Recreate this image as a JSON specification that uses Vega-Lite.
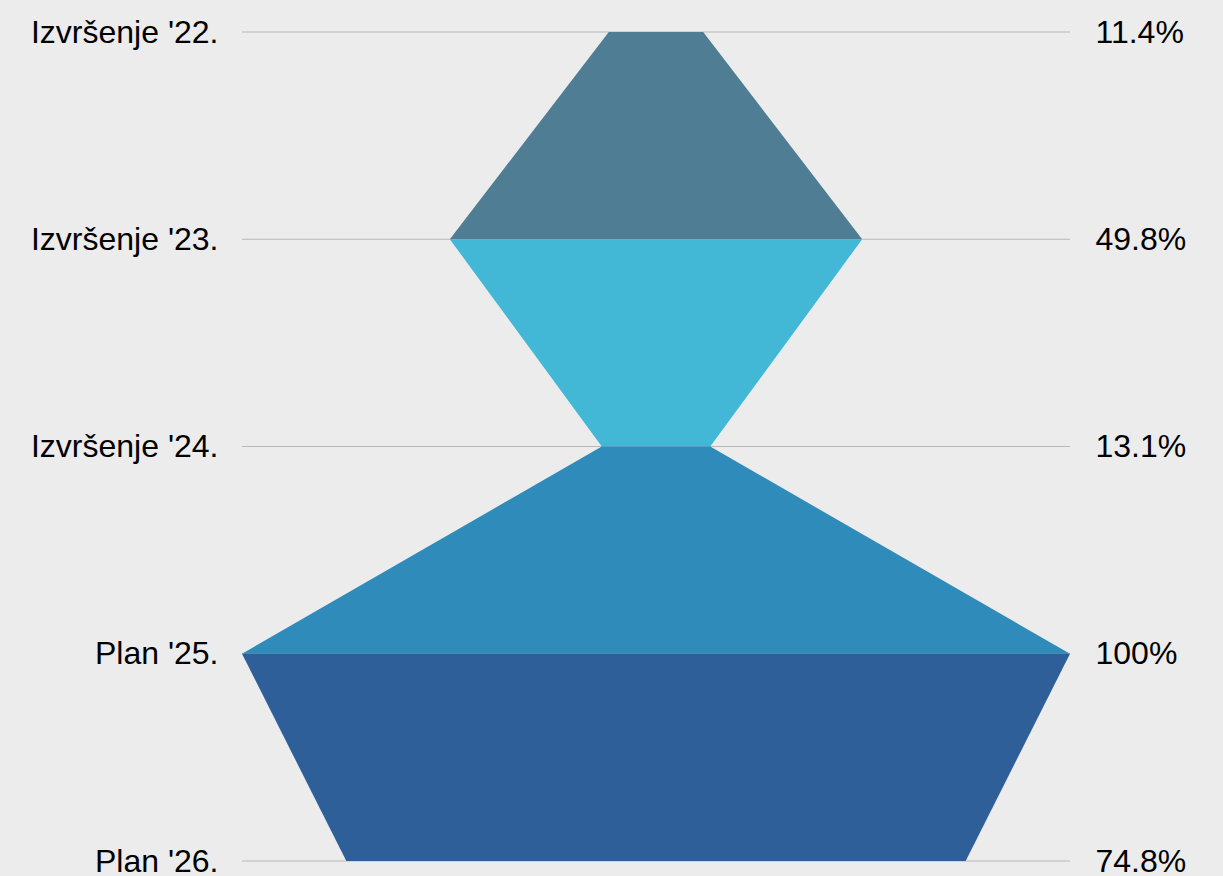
{
  "$schema": "https://vega.github.io/schema/vega-lite/v6.json",
  "description": "Funnel of execution and plan shares, drawn as centred trapezoids.",
  "width": 828,
  "height": 829,
  "autosize": {"type": "none"},
  "padding": {"left": 242, "top": 32, "right": 153, "bottom": 15},
  "background": "#ececec",
  "datasets": {
    "levels": [
      {"level": "Izvršenje '22.", "pct": "11.4%", "value": 11.4},
      {"level": "Izvršenje '23.", "pct": "49.8%", "value": 49.8},
      {"level": "Izvršenje '24.", "pct": "13.1%", "value": 13.1},
      {"level": "Plan '25.", "pct": "100%", "value": 100},
      {"level": "Plan '26.", "pct": "74.8%", "value": 74.8}
    ],
    "segments": [
      {"seg": "A", "level": "Izvršenje '22.", "value": 11.4},
      {"seg": "A", "level": "Izvršenje '23.", "value": 49.8},
      {"seg": "B", "level": "Izvršenje '23.", "value": 49.8},
      {"seg": "B", "level": "Izvršenje '24.", "value": 13.1},
      {"seg": "C", "level": "Izvršenje '24.", "value": 13.1},
      {"seg": "C", "level": "Plan '25.", "value": 100},
      {"seg": "D", "level": "Plan '25.", "value": 100},
      {"seg": "D", "level": "Plan '26.", "value": 74.8}
    ]
  },
  "layer": [
    {
      "data": {"name": "levels"},
      "mark": {"type": "rule", "color": "#b8b8b8", "strokeWidth": 1},
      "encoding": {
        "y": {
          "field": "pct",
          "type": "ordinal",
          "sort": ["11.4%", "49.8%", "13.1%", "100%", "74.8%"],
          "scale": {"type": "point", "padding": 0},
          "axis": {
            "orient": "right",
            "title": null,
            "domain": false,
            "ticks": false,
            "grid": false,
            "labelPadding": 25,
            "labelLimit": 0,
            "labelFont": "Liberation Sans",
            "labelFontSize": 32,
            "labelColor": "#000000",
            "labelAlign": "left",
            "labelBaseline": "middle"
          }
        }
      }
    },
    {
      "data": {"name": "segments"},
      "transform": [
        {"stack": "value", "groupby": ["seg", "level"], "offset": "center", "as": ["x0", "x1"]}
      ],
      "mark": {"type": "area", "orient": "horizontal", "opacity": 1},
      "encoding": {
        "y": {
          "field": "level",
          "type": "ordinal",
          "sort": ["Izvršenje '22.", "Izvršenje '23.", "Izvršenje '24.", "Plan '25.", "Plan '26."],
          "scale": {"type": "point", "padding": 0},
          "axis": {
            "orient": "left",
            "title": null,
            "domain": false,
            "ticks": false,
            "grid": false,
            "labelPadding": 24,
            "labelLimit": 0,
            "labelFont": "Liberation Sans",
            "labelFontSize": 32,
            "labelColor": "#000000",
            "labelAlign": "right",
            "labelBaseline": "middle"
          }
        },
        "x": {
          "field": "x0",
          "type": "quantitative",
          "scale": {"domain": [0, 100], "nice": false, "zero": false},
          "axis": null
        },
        "x2": {"field": "x1"},
        "color": {
          "field": "seg",
          "type": "nominal",
          "scale": {
            "domain": ["A", "B", "C", "D"],
            "range": ["#4e7d94", "#42b7d6", "#2e8bba", "#2e5f98"]
          },
          "legend": null
        }
      }
    }
  ],
  "resolve": {"scale": {"y": "independent"}, "axis": {"y": "independent"}},
  "config": {
    "view": {"stroke": null}
  }
}
